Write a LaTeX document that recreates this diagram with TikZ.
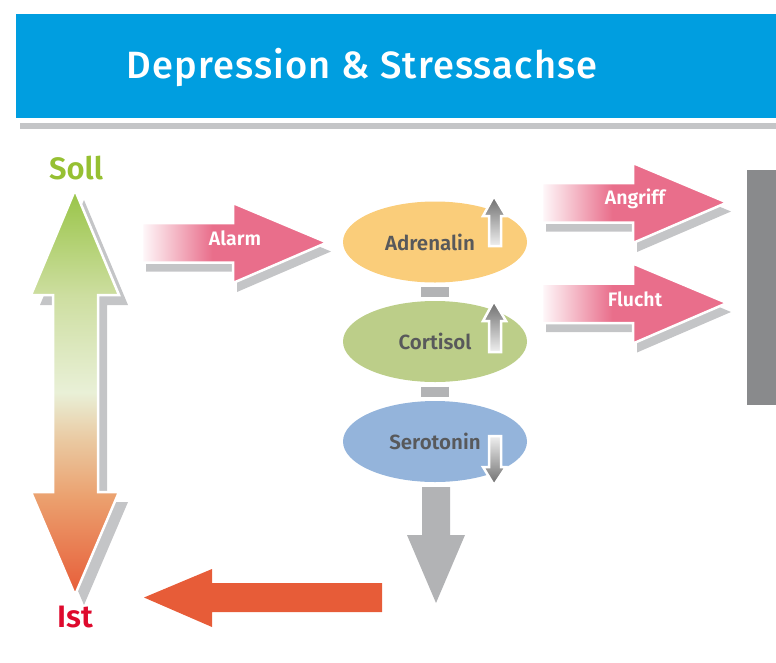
\documentclass[tikz,border=0pt]{standalone}
\usepackage{fontspec}
\setmainfont{Fira Sans}[BoldFont={Fira Sans SemiBold}]
\newfontfamily\titlefont{Fira Sans Medium}[LetterSpace=3]
\usetikzlibrary{positioning,shapes.geometric}
\definecolor{headblue}{RGB}{0,158,224}
\definecolor{barkgray}{RGB}{137,138,140}
\definecolor{shadowgray}{RGB}{196,197,199}
\definecolor{linkgray}{RGB}{178,179,181}
\definecolor{alarmpink}{RGB}{233,110,139}
\definecolor{adrcolor}{RGB}{250,205,122}
\definecolor{corcolor}{RGB}{188,206,137}
\definecolor{serocolor}{RGB}{148,180,219}
\definecolor{labelgray}{RGB}{88,89,91}
\definecolor{sollgreen}{RGB}{150,192,50}
\definecolor{istred}{RGB}{222,10,45}
\definecolor{arrowred}{RGB}{231,92,56}
\definecolor{arrowgreen}{RGB}{152,196,70}
\definecolor{arrowlight}{RGB}{205,222,160}
\definecolor{arrowpale}{RGB}{233,240,215}
\definecolor{arrowtan}{RGB}{234,200,160}
\definecolor{arrowpeach}{RGB}{235,160,110}
\pgfdeclareverticalshading{sollist}{100bp}{color(0bp)=(arrowred); color(25bp)=(arrowred);
  color(37bp)=(arrowpeach); color(44bp)=(arrowtan); color(50bp)=(arrowpale);
  color(62bp)=(arrowlight); color(75bp)=(arrowgreen); color(100bp)=(arrowgreen)}
\pgfdeclarehorizontalshading{pinkfade}{100bp}{color(0bp)=(white); color(25bp)=(alarmpink!4);
  color(44bp)=(alarmpink); color(100bp)=(alarmpink)}
\begin{document}
\begin{tikzpicture}[
  x=1pt, y=-1pt,
  hormone/.style={ellipse, minimum width=184pt, minimum height=81pt, inner sep=0pt,
    text=labelgray, font=\bfseries\fontsize{20.5}{24}\selectfont},
  arrowlabel/.style={text=white, font=\bfseries\fontsize{19.5}{22}\selectfont},
  pole/.style={font=\bfseries\fontsize{31}{36}\selectfont},
  linkbar/.style={draw=linkgray, line width=28pt, shorten <=4.5pt, shorten >=3.5pt},
  outline/.style={draw=white, line width=2.5pt, line join=miter},
]
  \useasboundingbox (0,0) rectangle (776,662);

  % Header
  \fill[headblue] (16,14) rectangle (776,118);
  \fill[shadowgray] (20,123) rectangle (776,129);
  \node[text=white, font=\titlefont\fontsize{38}{44}\selectfont] (title) at (362,67) {Depression \& Stressachse};

  % Soll / Ist axis
  \node[pole, text=sollgreen] (soll) at (76,168) {Soll};
  \node[pole, text=istred] (ist) at (75,617) {Ist};
  \fill[shadowgray, shift={(9,10)}] (75,190) -- (119,295) -- (98,295) -- (98,492) -- (119,492)
    -- (75,595) -- (31,492) -- (53,492) -- (53,295) -- (31,295) -- cycle;
  \shadedraw[shading=sollist, outline] (75,190) -- (119,295) -- (98,295) -- (98,492) -- (119,492)
    -- (75,595) -- (31,492) -- (53,492) -- (53,295) -- (31,295) -- cycle;

  % Pink arrows
  \foreach \ax/\ay/\name/\txt in {142/242.5/alarm/Alarm, 542/202.5/angriff/Angriff, 542/303/flucht/Flucht} {
    \fill[shadowgray, shift={(4,9)}] (\ax,\ay-19.5) -- ++(91,0) -- ++(0,-20) -- ++(94,39.5)
      -- ++(-94,40.5) -- ++(0,-20.5) -- ++(-91,0) -- cycle;
    \shadedraw[shading=pinkfade, outline] (\ax,\ay-19.5) -- ++(91,0) -- ++(0,-20) -- ++(94,39.5)
      -- ++(-94,40.5) -- ++(0,-20.5) -- ++(-91,0) -- cycle;
    \node[arrowlabel] (\name) at (\ax+93,\ay-4) {\txt};
  }

  % Wall
  \fill[barkgray] (747,170) rectangle (776,405);

  % Hormones
  \node[hormone, fill=adrcolor, text depth=0pt] (adr) at (435,242) {\hspace*{-10pt}Adrenalin};
  \node[hormone, fill=corcolor] (cor) at (435,341.5) {Cortisol};
  \node[hormone, fill=serocolor] (sero) at (435,441.5) {Serotonin};
  \draw[linkbar] (adr.south) -- (cor.north);
  \draw[linkbar] (cor.south) -- (sero.north);

  % Small trend arrows
  \foreach \ty/\by in {196/246, 301/352} {
    \shadedraw[top color=gray!85!black, bottom color=gray!12, outline] (494,\ty) -- (506,\ty+20)
      -- (501,\ty+20) -- (501,\by) -- (489,\by) -- (489,\ty+20) -- (483,\ty+20) -- cycle;
  }
  \shadedraw[top color=gray!12, bottom color=gray!85!black, outline] (489,436) -- (501,436)
    -- (501,467) -- (506,467) -- (494,485) -- (483,467) -- (489,467) -- cycle;

  % Consequence arrows
  \fill[linkgray] (422,487) -- (450,487) -- (450,535) -- (465,535) -- (436,603) -- (407,535)
    -- (422,535) -- cycle;
  \fill[arrowred] (382,583) -- (382,612) -- (212,612) -- (212,627) -- (144,597.5) -- (212,569)
    -- (212,583) -- cycle;
\end{tikzpicture}
\end{document}
